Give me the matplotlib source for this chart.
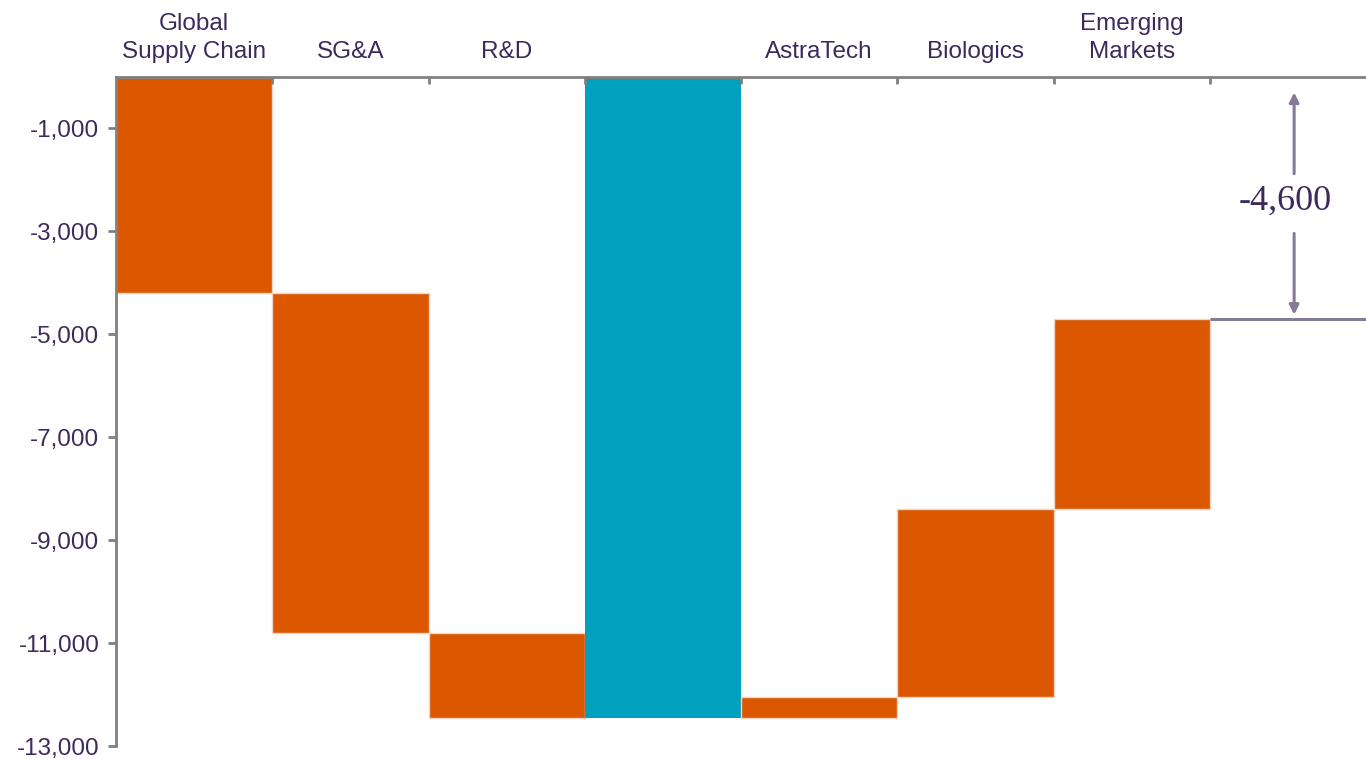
import matplotlib
matplotlib.use("Agg")
import matplotlib.pyplot as plt
from matplotlib.transforms import blended_transform_factory

# ---- data ----
cost_labels = ["Global\nSupply Chain", "SG&A", "R&D"]
cost_values = [-4200, -6600, -1650]
total_label = ""
offset_labels = ["AstraTech", "Biologics", "Emerging\nMarkets"]
offset_values = [400, 3650, 3700]
net_text = "-4,600"
yticks = [-1000, -3000, -5000, -7000, -9000, -11000, -13000]
ytick_labels = ["-1,000", "-3,000", "-5,000", "-7,000", "-9,000", "-11,000", "-13,000"]

ORANGE = "#DB5800"
TEAL = "#00A0BE"
TEXT = "#3D2A5C"
GREY = "#808080"
ARROW = "#857B99"

fig = plt.figure(figsize=(13.66, 7.59), dpi=100)
ax = fig.add_axes([116 / 1366, 13 / 759, 1 - 116 / 1366, (746 - 77) / 759])

labels = cost_labels + [total_label] + offset_labels
xpos = list(range(len(labels)))

# waterfall
running = 0
i = 0
for v in cost_values:
    ax.bar(i, v, bottom=running, width=1.0, color=ORANGE, edgecolor="#F4D2C5", linewidth=1.0)
    running += v
    i += 1
total = running
ax.bar(i, total, bottom=0, width=1.0, color=TEAL, linewidth=0)
i += 1
for v in offset_values:
    ax.bar(i, v, bottom=running, width=1.0, color=ORANGE, edgecolor="#F4D2C5", linewidth=1.0)
    running += v
    i += 1
final = running

ax.set_xlim(-0.5, len(labels) + 0.5)
ax.set_ylim(-13000, 0)

# spines
for s in ["right", "bottom"]:
    ax.spines[s].set_visible(False)
for s in ["left", "top"]:
    ax.spines[s].set_color(GREY)
    ax.spines[s].set_linewidth(2.0)
ax.spines["left"].set_bounds(-13000, 0)

ax.set_yticks(yticks)
ax.set_yticklabels(ytick_labels)
ax.tick_params(axis="y", direction="out", length=6, width=2, color=GREY, pad=6,
               labelsize=17.5, labelcolor=TEXT)
for t in ax.get_yticklabels():
    t.set_fontfamily("Liberation Sans")

ax.xaxis.tick_top()
ax.set_xticks([k + 0.5 for k in range(len(labels))])
ax.set_xticklabels([])
ax.tick_params(axis="x", direction="in", length=5, width=2, color=GREY)

# category labels
trans = blended_transform_factory(ax.transData, ax.transAxes)
for x, lab in zip(xpos, labels):
    if lab:
        ax.annotate(lab, xy=(x, 1.0), xycoords=trans, xytext=(0, 10),
                    textcoords="offset points", ha="center", va="bottom",
                    fontsize=17.5, color=TEXT, family="Liberation Sans",
                    linespacing=1.35)

# net annotation column
last = len(labels)
ax.plot([last - 0.5, last + 0.5], [final, final], color=ARROW, lw=2.2, solid_capstyle="butt")
ax.text(last - 0.02, -2420, net_text, ha="center", va="center", fontsize=26,
        family="Liberation Serif", color=TEXT)
ax.annotate("", xy=(last + 0.04, -300), xytext=(last + 0.04, -1880),
            arrowprops=dict(arrowstyle="-|>", color=ARROW, lw=2.2, mutation_scale=14,
                            shrinkA=0, shrinkB=0))
ax.annotate("", xy=(last + 0.04, final + 80), xytext=(last + 0.04, -3040),
            arrowprops=dict(arrowstyle="-|>", color=ARROW, lw=2.2, mutation_scale=14,
                            shrinkA=0, shrinkB=0))

fig.savefig("out.png", dpi=100)
